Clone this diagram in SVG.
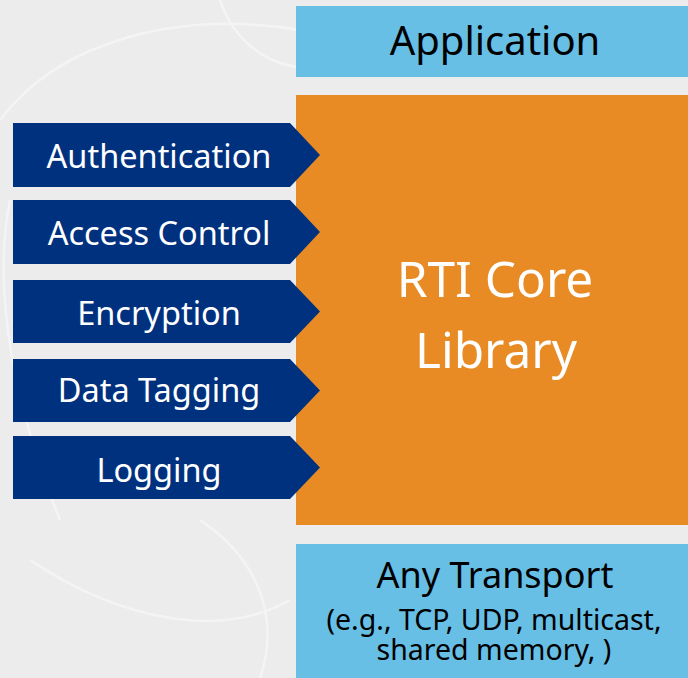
<svg xmlns="http://www.w3.org/2000/svg" width="688" height="678" viewBox="0 0 688 678">
<style>
.bg{fill:#ececec}
.swirl{fill:none;stroke:#f4f4f4;stroke-width:2.5}
.chev{fill:#00317f}
.chevt{fill:#ffffff;font-family:"Noto Sans","Open Sans",sans-serif;font-size:32.5px;text-anchor:middle}
.blue{fill:#67bfe6}
.orange{fill:#e98b24}
.dark{fill:#000000;font-family:"Noto Sans","Open Sans",sans-serif;text-anchor:middle}
.white{fill:#ffffff;font-family:"Noto Sans","Open Sans",sans-serif;text-anchor:middle}
</style>
<rect class="bg" x="0" y="0" width="688" height="678"/>
<g id="background-swirls">
<path class="swirl" d="M0,120 C60,40 180,10 300,30"/>
<path class="swirl" d="M220,0 C240,60 300,80 340,60"/>
<path class="swirl" d="M10,200 C-10,300 20,420 60,520"/>
<path class="swirl" d="M30,560 C120,620 220,640 290,600"/>
<path class="swirl" d="M200,520 C260,560 280,620 260,678"/>
<path class="swirl" d="M100,360 C140,400 200,400 240,370"/>
</g>
<g id="application">
<rect class="blue" x="296" y="6" width="392" height="71"/>
<text class="dark" x="495" y="55" font-size="40">Application</text>
</g>
<g id="rti-core">
<rect class="orange" x="296" y="95" width="392" height="430"/>
<text class="white" x="495" y="297" font-size="49.5">RTI Core</text>
<text class="white" x="496" y="368" font-size="49.5">Library</text>
</g>
<g id="transport">
<rect class="blue" x="296" y="544" width="392" height="134"/>
<text class="dark" x="495" y="588" font-size="36">Any Transport</text>
<text class="dark" x="494" y="630" font-size="28.5">(e.g., TCP, UDP, multicast,</text>
<text class="dark" x="494" y="660" font-size="28.5">shared memory, )</text>
</g>
<g id="authentication">
<polygon class="chev" points="13,123 290,123 320,155 290,187 13,187"/>
<text class="chevt" x="159" y="168">Authentication</text>
</g>
<g id="access-control">
<polygon class="chev" points="13,200 290,200 320,232 290,264 13,264"/>
<text class="chevt" x="159" y="245">Access Control</text>
</g>
<g id="encryption">
<polygon class="chev" points="13,280 290,280 320,311.5 290,343 13,343"/>
<text class="chevt" x="159" y="325">Encryption</text>
</g>
<g id="data-tagging">
<polygon class="chev" points="13,359 290,359 320,390.5 290,422 13,422"/>
<text class="chevt" x="159" y="402">Data Tagging</text>
</g>
<g id="logging">
<polygon class="chev" points="13,436 290,436 320,467.5 290,499 13,499"/>
<text class="chevt" x="159" y="482">Logging</text>
</g>
<g id="connectors"></g>
</svg>
